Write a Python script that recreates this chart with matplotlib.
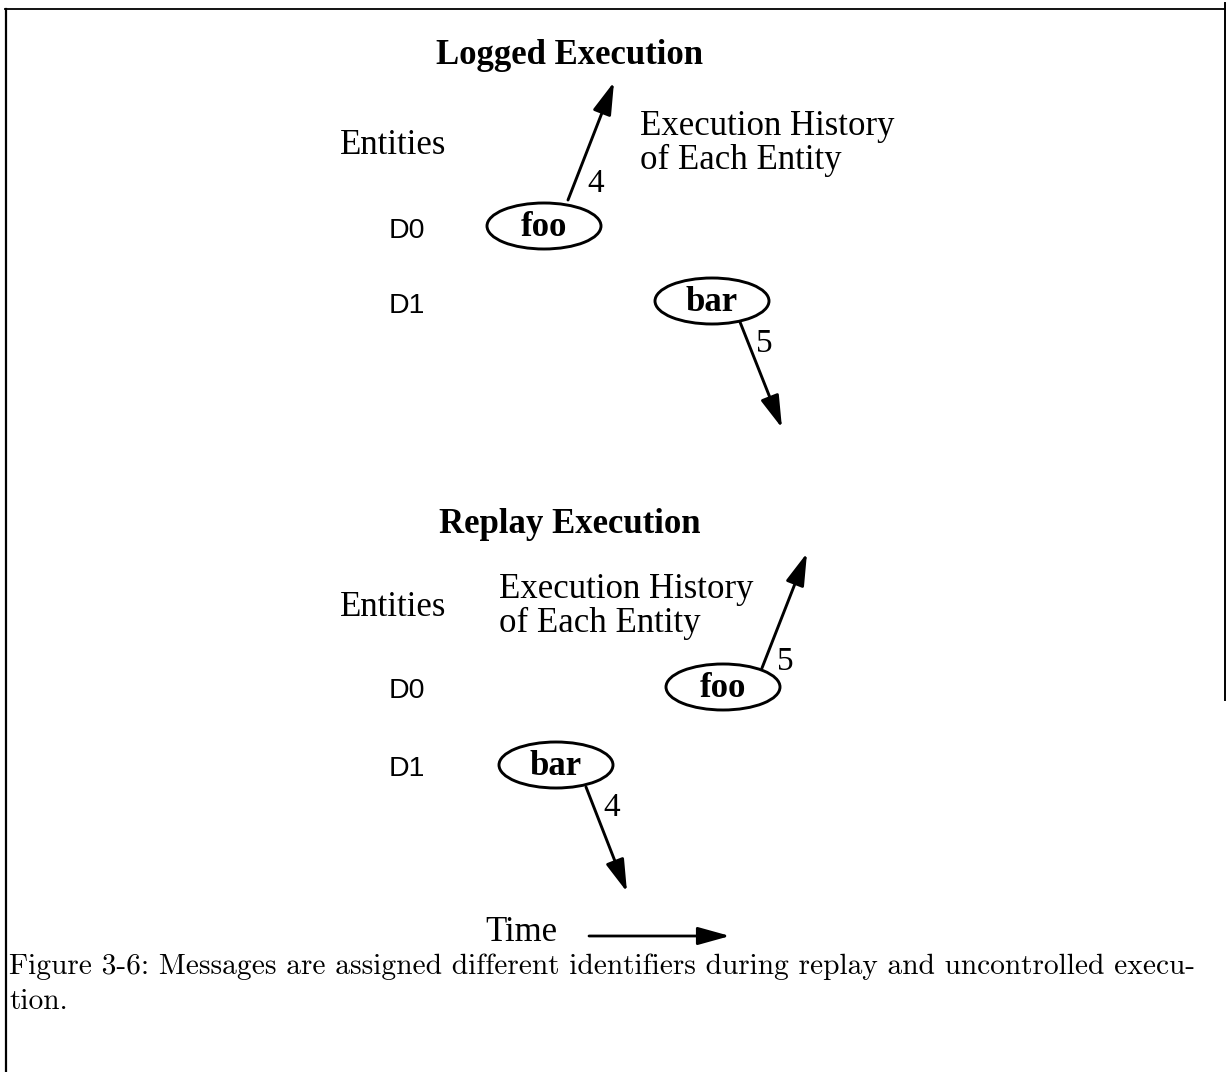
import matplotlib
matplotlib.use("Agg")
import matplotlib.pyplot as plt
from matplotlib.patches import Ellipse

# diagram content
section_titles = ["Logged Execution", "Replay Execution"]
entities = ["D0", "D1"]
logged_nodes = ["foo", "bar"]      # node run by D0, D1 in the log
logged_ids = ["4", "5"]
replay_nodes = ["foo", "bar"]
replay_ids = ["5", "4"]
caption = ["Figure 3-6: Messages are assigned different identifiers during replay and uncontrolled execu-",
           "tion."]

# layout (pixel coordinates, y downwards)
W, H = 1227, 1072
title_y = [64, 533]
entities_y = [154, 616]
history_xy = [(640, 135), (499, 598)]
entity_x = 389
row_y = [[238, 313], [698, 776]]
node_xy = [[(544, 226), (712, 301)], [(723, 687), (556, 765)]]
arrow_tail = [[(568, 200), (740, 322)], [(762, 668), (586, 787)]]
arrow_head = [[(614, 82), (782, 428)], [(807, 553), (627, 892)]]
id_xy = [[(596, 192), (764, 352)], [(785, 670), (612, 816)]]

serif = ["Liberation Serif", "DejaVu Serif"]
sans = ["Liberation Sans", "DejaVu Sans"]

fig = plt.figure(figsize=(W / 100, H / 100), dpi=100)
ax = fig.add_axes([0, 0, 1, 1])
ax.set_xlim(0, W)
ax.set_ylim(H, 0)
ax.axis("off")

# frame
ax.plot([5, 1225], [9, 9], color="black", lw=1.3)
ax.plot([6, 6], [9, H], color="black", lw=1.6)
ax.plot([1225, 1225], [3, 700], color="black", lw=1.4)

arrow_style = dict(arrowstyle="-|>,head_length=0.55,head_width=0.16", color="black",
                   lw=2.1, mutation_scale=36, shrinkA=0, shrinkB=0)

for s, (nodes, ids) in enumerate([(logged_nodes, logged_ids), (replay_nodes, replay_ids)]):
    ax.text(570, title_y[s], section_titles[s], ha="center", va="baseline",
            fontsize=25, fontweight="bold", family=serif)
    ax.text(340, entities_y[s], "Entities", ha="left", va="baseline", fontsize=25, family=serif)
    hx, hy = history_xy[s]
    ax.text(hx, hy, "Execution History", ha="left", va="baseline", fontsize=25, family=serif)
    ax.text(hx, hy + 34, "of Each Entity", ha="left", va="baseline", fontsize=25, family=serif)
    for i, name in enumerate(entities):
        ax.text(entity_x, row_y[s][i], name, ha="left", va="baseline", fontsize=20.5, family=sans)
        cx, cy = node_xy[s][i]
        ax.add_patch(Ellipse((cx, cy), 114, 46, fill=False, lw=2.1, edgecolor="black"))
        ax.text(cx, cy + 10, nodes[i], ha="center", va="baseline", fontsize=25,
                fontweight="bold", family=serif)
        ax.annotate("", xy=arrow_head[s][i], xytext=arrow_tail[s][i], arrowprops=arrow_style)
        ix, iy = id_xy[s][i]
        ax.text(ix, iy, ids[i], ha="center", va="baseline", fontsize=24, family=serif)

# time axis
ax.text(485, 941, "Time", ha="left", va="baseline", fontsize=25, family=serif)
ax.annotate("", xy=(730, 936), xytext=(589, 936),
            arrowprops=dict(arrowstyle="-|>,head_length=0.9,head_width=0.25", color="black",
                            lw=2.0, mutation_scale=22, shrinkA=0, shrinkB=0))

# caption
ax.text(9, 974, caption[0], ha="left", va="baseline", fontsize=21.2, family="cmr10")
ax.text(9, 1009, caption[1], ha="left", va="baseline", fontsize=21.2, family="cmr10")

fig.savefig("out.png", dpi=100)
